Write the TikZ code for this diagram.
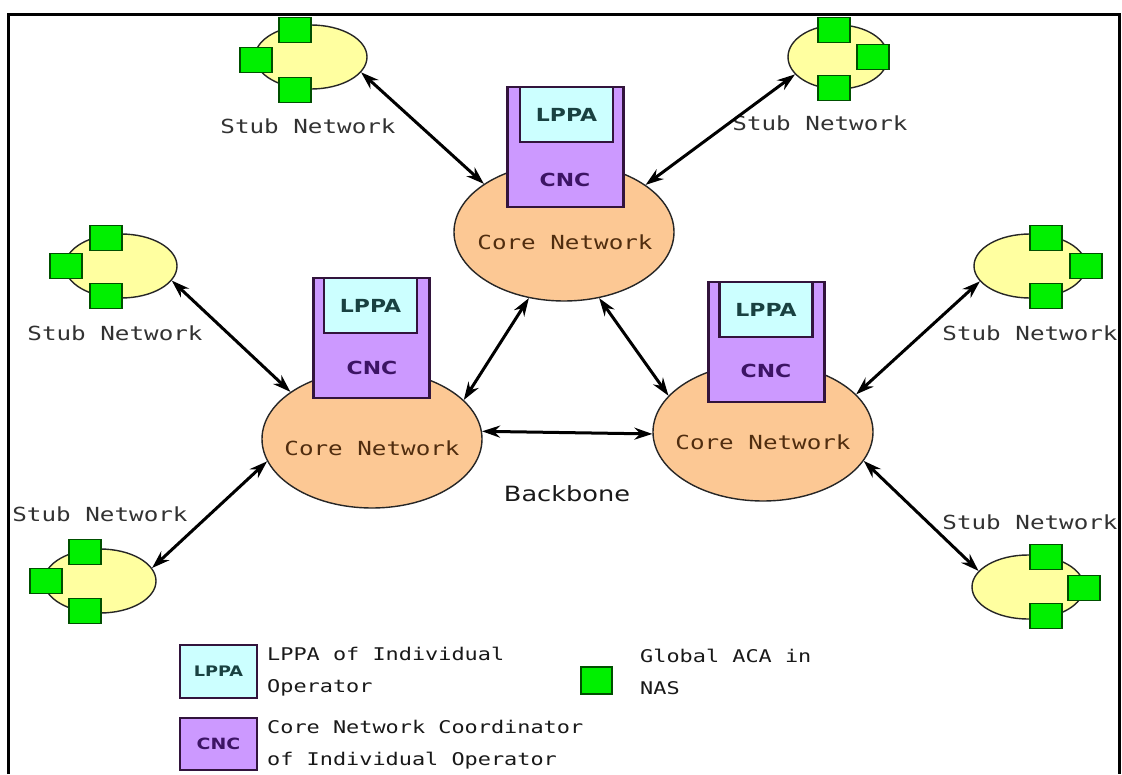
\documentclass[tikz,border=0pt]{standalone}
\usepackage{fontspec}
\setmainfont{DejaVu Sans}[FakeStretch=1.22]
\newfontfamily\monof{DejaVu Sans Mono}[FakeStretch=1.25]
\usetikzlibrary{shapes.geometric,arrows.meta}
\definecolor{stubyellow}{RGB}{255,255,160}
\definecolor{coreorange}{RGB}{252,200,148}
\definecolor{cncpurple}{RGB}{204,153,255}
\definecolor{lppacyan}{RGB}{204,255,255}
\definecolor{nasgreen}{RGB}{0,240,0}
\definecolor{nasborder}{RGB}{0,80,0}
\definecolor{boxborder}{RGB}{50,20,60}
\definecolor{stubtext}{RGB}{50,50,50}
\definecolor{coretext}{RGB}{80,45,15}
\definecolor{lppatext}{RGB}{25,65,65}
\definecolor{cnctext}{RGB}{60,20,100}
\definecolor{legtext}{RGB}{25,25,25}
\begin{document}
\begin{tikzpicture}[x=1pt,y=-1pt,
  stub/.style={ellipse, draw=black!85, fill=stubyellow, line width=1.4pt, minimum width=112pt, minimum height=64pt, inner sep=0pt},
  core/.style={ellipse, draw=black!85, fill=coreorange, line width=1.4pt, minimum width=220pt, minimum height=138pt, inner sep=0pt},
  nas/.style={rectangle, draw=nasborder, fill=nasgreen, line width=1.7pt, minimum width=32pt, minimum height=25pt, inner sep=0pt},
  cncbox/.style={rectangle, draw=boxborder, fill=cncpurple, line width=2.2pt, minimum width=116pt, minimum height=120pt, inner sep=0pt},
  lppabox/.style={rectangle, draw=boxborder, fill=lppacyan, line width=2.2pt, minimum width=93pt, minimum height=55pt, inner sep=0pt, text=lppatext, font=\fontsize{18}{20}\selectfont\bfseries},
  cnclbl/.style={text=cnctext, font=\fontsize{18}{20}\selectfont\bfseries, inner sep=0pt},
  stublbl/.style={text=stubtext, font=\monof\fontsize{19.4}{22}\selectfont, inner sep=0pt},
  corelbl/.style={text=coretext, font=\monof\fontsize{19.4}{22}\selectfont, inner sep=0pt},
  legtxt/.style={text=legtext, font=\monof\fontsize{17.5}{32}\selectfont, align=left, anchor=west, inner sep=0pt},
  arr/.style={line width=3pt, {Stealth[length=18pt,width=12pt]}-{Stealth[length=18pt,width=12pt]}}
]
\useasboundingbox (0,0) rectangle (1122,774);
\fill[white] (0,0) rectangle (1122,774);
\draw[line width=3pt] (8,774) -- (8,14) -- (1119,14) -- (1119,774);

% stub networks
\node[stub] (s1) at (311,57) {};
\node[nas] (s1a) at (295,30) {};
\node[nas] (s1b) at (256,60) {};
\node[nas] (s1c) at (295,90) {};
\node[stublbl] (s1l) at (308,126) {Stub Network};

\node[stub, minimum width=100pt] (s2) at (838,57) {};
\node[nas] (s2a) at (834,30) {};
\node[nas] (s2b) at (873,57) {};
\node[nas] (s2c) at (834,88) {};
\node[stublbl] (s2l) at (820,123) {Stub Network};

\node[stub] (s3) at (121,266) {};
\node[nas] (s3a) at (106,238) {};
\node[nas] (s3b) at (66,266) {};
\node[nas] (s3c) at (106,296) {};
\node[stublbl] (s3l) at (115,333) {Stub Network};

\node[stub] (s4) at (1030,266) {};
\node[nas] (s4a) at (1046,238) {};
\node[nas] (s4b) at (1086,266) {};
\node[nas] (s4c) at (1046,296) {};
\node[stublbl] (s4l) at (1030,333) {Stub Network};

\node[stub] (s5) at (100,581) {};
\node[nas] (s5a) at (85,552) {};
\node[nas] (s5b) at (46,581) {};
\node[nas] (s5c) at (85,611) {};
\node[stublbl] (s5l) at (100,514) {Stub Network};

\node[stub] (s6) at (1028,587) {};
\node[nas] (s6a) at (1046,557) {};
\node[nas] (s6b) at (1084,588) {};
\node[nas] (s6c) at (1046,616) {};
\node[stublbl] (s6l) at (1030,522) {Stub Network};

% core networks
\node[core] (c1) at (564,232) {};
\node[corelbl] (c1l) at (565,242) {Core Network};
\node[cncbox] (c1b) at (565.5,147) {};
\node[lppabox] (c1p) at (566.5,114.5) {LPPA};
\node[cnclbl] (c1c) at (565,180) {CNC};

\node[core] (c2) at (372,439) {};
\node[corelbl] (c2l) at (372,448) {Core Network};
\node[cncbox] (c2b) at (371.5,338) {};
\node[lppabox] (c2p) at (370.5,305.5) {LPPA};
\node[cnclbl] (c2c) at (372,368) {CNC};

\node[core] (c3) at (763,432) {};
\node[corelbl] (c3l) at (763,442) {Core Network};
\node[cncbox] (c3b) at (766.5,342) {};
\node[lppabox] (c3p) at (766,309.5) {LPPA};
\node[cnclbl] (c3c) at (766,371) {CNC};

\node[text=legtext, font=\fontsize{21}{24}\selectfont, inner sep=0pt] (bb) at (567,494) {Backbone};

% connectors
\draw[arr] (s1.-17.8) -- (c1.149.7);
\draw[arr] (s2.-158) -- (c1.30.3);
\draw[arr] (s3.-16) -- (c2.150.2);
\draw[arr] (c1.242.4) -- (c2.23.3);
\draw[arr] (c1.-62.7) -- (c3.159.7);
\draw[arr] (c2.4) -- (c3.181.7);
\draw[arr] (s4.197.2) -- (c3.22.8);
\draw[arr] (s5.14.7) -- (c2.192.2);
\draw[arr] (s6.162.8) -- (c3.-16.4);

% legend
\node[lppabox, minimum width=77pt, minimum height=53pt, font=\fontsize{14.5}{16}\selectfont\bfseries] (lg1) at (218.5,671.5) {LPPA};
\node[legtxt] (lg1t) at (267,671.5) {LPPA of Individual\\Operator};
\node[cncbox, minimum width=77pt, minimum height=52pt, text=cnctext, font=\fontsize{15.5}{17}\selectfont\bfseries] (lg2) at (218.5,744) {CNC};
\node[legtxt] (lg2t) at (267,745) {Core Network Coordinator\\of Individual Operator};
\node[nas, minimum width=31pt, minimum height=27pt] (lg3) at (596.5,680.5) {};
\node[legtxt] (lg3t) at (640,671.5) {Global ACA in\\NAS};
\end{tikzpicture}
\end{document}
